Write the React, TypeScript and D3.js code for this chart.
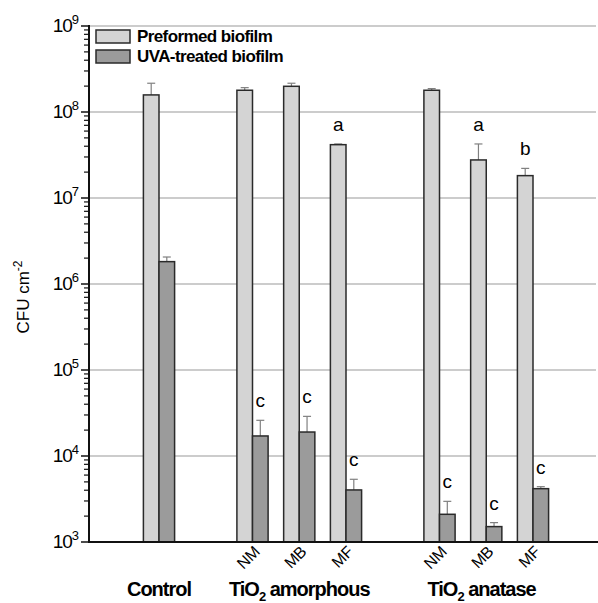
import React from 'react';
import * as d3 from 'd3';

// slot index along x: control, gap, 3 amorphous, gap, 3 anatase
const slots = [0, 2, 3, 4, 6, 7, 8];
const sampleLabels = ['', 'NM', 'MB', 'MF', 'NM', 'MB', 'MF'];
const groupLabels = ['Control', 'TiO', 'TiO'];
const groupSuffix = ['', ' amorphous', ' anatase'];
const groupSlots = [0, 3, 6.9];

const preformed = [1.58e8, 1.79e8, 1.99e8, 4.17e7, 1.79e8, 2.77e7, 1.82e7];
const preformedErr = [2.16e8, 1.92e8, 2.16e8, 4.25e7, 1.87e8, 4.25e7, 2.21e7];
const uva = [1.82e6, 1.71e4, 1.9e4, 4.03e3, 2.1e3, 1.51e3, 4.17e3];
const uvaErr = [2.06e6, 2.6e4, 2.89e4, 5.36e3, 2.97e3, 1.68e3, 4.4e3];
const preformedLetters = ['', '', '', 'a', '', 'a', 'b'];
const uvaLetters = ['', 'c', 'c', 'c', 'c', 'c', 'c'];

const exponents = [3, 4, 5, 6, 7, 8, 9];
const legendLabels = ['Preformed biofilm', 'UVA-treated biofilm'];

const W = 598;
const H = 603;
const left = 89;
const right = 596;
const top = 26;
const bottom = 542;
const bw = 15.6;

const LIGHT = '#d4d4d4';
const DARK = '#9b9b9b';
const font = 'Arial, "Liberation Sans", sans-serif';

export default function App() {
  const y = d3.scaleLog().domain([1e3, 1e9]).range([bottom, top]);
  const x = d3.scaleLinear().domain([0, 8]).range([159, 533]);

  const minor: number[] = [];
  exponents.slice(0, -1).forEach(e => {
    for (let k = 2; k <= 9; k++) minor.push(k * Math.pow(10, e));
  });

  const errBar = (cx: number, v0: number, v1: number, key: string) => (
    <g key={key} stroke="#808080" strokeWidth={1.2}>
      <line x1={cx} x2={cx} y1={y(v0)} y2={y(v1)} />
      <line x1={cx - 4} x2={cx + 4} y1={y(v1)} y2={y(v1)} />
    </g>
  );

  return (
    <svg width={W} height={H} style={{ position: 'absolute', left: 0, top: 0 }} fontFamily={font}>
      <rect width={W} height={H} fill="#fff" />

      {/* gridlines */}
      {exponents.map(e => (
        <line key={'g' + e} x1={left} x2={right} y1={y(Math.pow(10, e))} y2={y(Math.pow(10, e))}
          stroke="#9a9a9a" strokeWidth={1.2} />
      ))}

      {/* bars */}
      {slots.map((s, i) => {
        const c = x(s);
        return (
          <g key={'b' + i}>
            {errBar(c - bw / 2, preformed[i], preformedErr[i], 'pe' + i)}
            {errBar(c + bw / 2, uva[i], uvaErr[i], 'ue' + i)}
            <rect x={c - bw} y={y(preformed[i])} width={bw} height={bottom - y(preformed[i])}
              fill={LIGHT} stroke="#2a2a2a" strokeWidth={1.5} />
            <rect x={c} y={y(uva[i])} width={bw} height={bottom - y(uva[i])}
              fill={DARK} stroke="#2a2a2a" strokeWidth={1.5} />
            {preformedLetters[i] && (
              <text x={c - bw / 2} y={y(preformedErr[i]) - 13} textAnchor="middle" fontSize={19}>
                {preformedLetters[i]}
              </text>
            )}
            {uvaLetters[i] && (
              <text x={c + bw / 2} y={y(uvaErr[i]) - 13} textAnchor="middle" fontSize={19}>
                {uvaLetters[i]}
              </text>
            )}
            {sampleLabels[i] && (
              <text transform={`translate(${c + 8},553) rotate(-45)`} textAnchor="end" fontSize={16}
                letterSpacing={-0.5}>
                {sampleLabels[i]}
              </text>
            )}
          </g>
        );
      })}

      {/* y axis */}
      <line x1={left} x2={left} y1={top - 1} y2={bottom + 1} stroke="#111" strokeWidth={2} />
      <line x1={left - 1} x2={W} y1={bottom} y2={bottom} stroke="#111" strokeWidth={2.2} />
      {minor.map(v => (
        <line key={'m' + v} x1={left - 5} x2={left} y1={y(v)} y2={y(v)} stroke="#111" strokeWidth={1.2} />
      ))}
      {exponents.map(e => {
        const ty = y(Math.pow(10, e));
        return (
          <g key={'t' + e}>
            <line x1={left - 8} x2={left} y1={ty} y2={ty} stroke="#111" strokeWidth={1.5} />
            <text x={78} y={ty + 6} textAnchor="end" fontSize={19} letterSpacing={-1}>
              10<tspan dy={-8} fontSize={13}>{e}</tspan>
            </text>
          </g>
        );
      })}
      <text transform="translate(29,297) rotate(-90)" textAnchor="middle" fontSize={17}>
        CFU cm<tspan dy={-7} fontSize={12}>-2</tspan>
      </text>

      {/* group labels */}
      {groupLabels.map((g, i) => (
        <text key={'gl' + i} x={x(groupSlots[i])} y={596} textAnchor="middle" fontSize={20}
          fontWeight="bold" letterSpacing={-1}>
          {g}
          {i > 0 && <tspan dy={5} fontSize={13}>2</tspan>}
          {i > 0 && <tspan dy={-5}>{groupSuffix[i]}</tspan>}
        </text>
      ))}

      {/* legend */}
      {legendLabels.map((l, i) => (
        <g key={'l' + i} transform={`translate(96,${30 + i * 20})`}>
          <rect width={34} height={13} fill={i === 0 ? LIGHT : DARK} stroke="#2a2a2a" strokeWidth={1.5} />
          <text x={41} y={12} fontSize={17} fontWeight="bold" letterSpacing={-0.6}>{l}</text>
        </g>
      ))}
    </svg>
  );
}
